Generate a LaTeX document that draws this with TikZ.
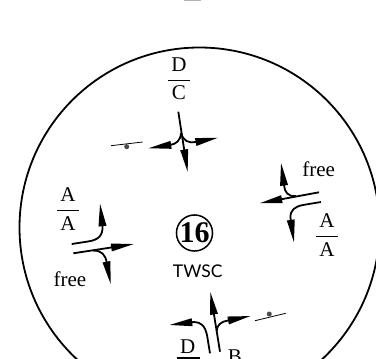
\documentclass[tikz,border=0pt]{standalone}
\usepackage{fontspec}
\setmainfont{Liberation Serif}
\newfontfamily\labelsans{Lato}
\usetikzlibrary{arrows.meta}

\newcommand{\movefrac}[2]{$\displaystyle\frac{\mbox{\,#1\,}}{\mbox{\,#2\,}}$}

\begin{document}
\begin{tikzpicture}[x=1pt,y=-1pt,>={Triangle[length=23pt,width=7.5pt]},
  move/.style = {->, line width=1.8pt},
  sign/.style = {line width=0.8pt},
  gradedot/.style = {circle, fill=black!70, inner sep=0pt, minimum size=5pt},
  txt/.style = {font=\fontsize{21}{24}\selectfont, inner sep=0pt}]
\path[use as bounding box, clip] (0,0) rectangle (376,359);
  \draw[black!30, line width=1pt] (184,0) -- (201,0);
  \node[circle, draw, line width=1.8pt, minimum size=360pt] (ring) at (199.5,227.5) {};

  %north approach
  \node[txt] (fracN) at (179,79) {\movefrac{D}{C}};
  \coordinate (nStart) at (178.3,111.7);
  \coordinate (nBranch) at (181,133);
  \coordinate (nThru) at (187.7,172.3);
  \coordinate (nLeft) at (148.3,148.3);
  \coordinate (nRight) at (218.3,137.7);
  \draw[move] (nStart) -- (nThru);
  \draw[move] (nBranch) .. controls (180.5,141) and (176,144) .. (170,145) -- (nLeft);
  \draw[move] (nBranch) .. controls (183,141) and (189,143.5) .. (196,142) -- (nRight);
  \node[gradedot] (dotN) at (126.7,146.7) {};
  \coordinate (signNa) at (111,145.7);
  \coordinate (signNb) at (142.7,142);
  \draw[sign] (signNa) -- (signNb);

  %east approach
  \node[txt] (freeE) at (318.7,169) {free};
  \node[txt] (fracE) at (327,235) {\movefrac{A}{A}};
  \coordinate (eStart) at (319,192.3);
  \coordinate (eThru) at (259.3,203.3);
  \coordinate (eBranch) at (296,196);
  \coordinate (eRight) at (281,162.7);
  \coordinate (eLane) at (321,202);
  \coordinate (eLeft) at (294,242.7);
  \draw[move] (eStart) -- (eThru);
  \draw[move] (eBranch) .. controls (288,197) and (284.5,192) .. (284,185) -- (eRight);
  \draw[move] (eLane) -- (303,205) .. controls (295,206.5) and (290,210) .. (290.5,218) -- (eLeft);

  %west approach
  \node[txt] (fracW) at (68,209) {\movefrac{A}{A}};
  \node[txt] (freeW) at (70,279) {free};
  \coordinate (wLane) at (71.7,244);
  \coordinate (wLeft) at (100,203.3);
  \coordinate (wStart) at (73.3,253.3);
  \coordinate (wThru) at (134,244);
  \coordinate (wBranch) at (93.3,250.7);
  \coordinate (wRight) at (110.7,284.3);
  \draw[move] (wLane) -- (88,241.5) .. controls (98,240) and (103,236) .. (102.5,226) -- (wLeft);
  \draw[move] (wStart) -- (wThru);
  \draw[move] (wBranch) .. controls (101,250) and (106,255) .. (106.7,263) -- (wRight);

  %south approach
  \node[txt, anchor=base] (labelD) at (187.7,353) {D};
  \coordinate (ruleSa) at (176.5,358);
  \coordinate (ruleSb) at (199.5,358);
  \draw[line width=1.1pt] (ruleSa) -- (ruleSb);
  \node[txt, anchor=north] (labelB) at (235,350) {B};
  \coordinate (sStart) at (220,351.7);
  \coordinate (sThru) at (210.3,291.7);
  \coordinate (sBranch) at (216.7,331);
  \coordinate (sRight) at (250.7,316);
  \coordinate (sLane) at (210,353.3);
  \coordinate (sLeft) at (169.3,325);
  \draw[move] (sStart) -- (sThru);
  \draw[move] (sBranch) .. controls (217,325) and (221,321.5) .. (228,320.5) -- (sRight);
  \draw[move] (sLane) -- (207,335) .. controls (205,326) and (201,322) .. (194,322) -- (sLeft);
  \node[gradedot] (dotS) at (269.3,314) {};
  \coordinate (signSa) at (255,320.7);
  \coordinate (signSb) at (285.7,313.3);
  \draw[sign] (signSa) -- (signSb);

  %centre
  \node[circle, draw, line width=1.5pt, minimum size=36pt, inner sep=0pt, font=\fontsize{30}{30}\selectfont\bfseries] (ctrl) at (194.5,233) {16};
  \node[inner sep=0pt, font=\labelsans\fontsize{17.5}{20}\selectfont] (twsc) at (197.7,271.7) {TWSC};
\end{tikzpicture}
\end{document}
